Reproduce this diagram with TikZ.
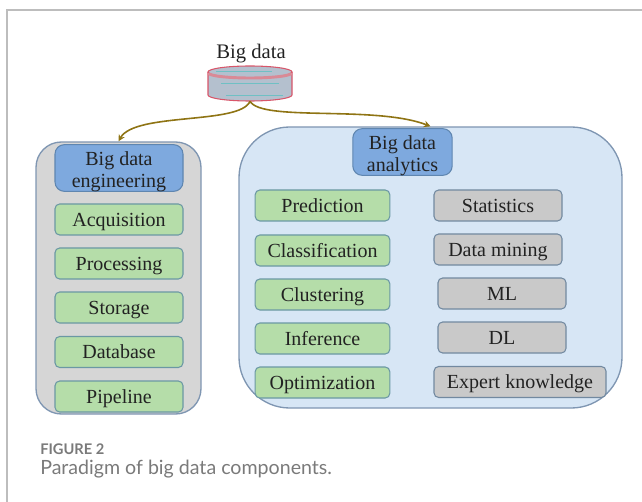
\documentclass[tikz,border=0pt]{standalone}
\usepackage{fontspec}
\setmainfont{Liberation Serif}
\setsansfont{Lato}
\usetikzlibrary{arrows.meta}

\definecolor{framegray}{HTML}{BDBDBD}
\definecolor{captiongray}{HTML}{7A7A7A}
\definecolor{panelgray}{HTML}{D6D6D6}
\definecolor{panelblue}{HTML}{D7E6F5}
\definecolor{panelline}{HTML}{7F96B2}
\definecolor{headblue}{HTML}{7EA9DE}
\definecolor{headline}{HTML}{5F86B0}
\definecolor{taskgreen}{HTML}{B5DDA9}
\definecolor{taskline}{HTML}{6B98A4}
\definecolor{toolgray}{HTML}{C9C9C9}
\definecolor{toolline}{HTML}{7289A0}
\definecolor{dbfill}{HTML}{B4C0CE}
\definecolor{dbline}{HTML}{D8566A}
\definecolor{dbband}{HTML}{D98A96}
\definecolor{dbteal}{HTML}{6FC0C4}
\definecolor{arrowgold}{HTML}{8F7414}
\definecolor{inkgray}{HTML}{222222}

\begin{document}
\begin{tikzpicture}[x=0.75pt, y=-0.75pt]
% Box style
\tikzset{
    panel/.style={draw=panelline, line width=1pt, minimum width=#1},
    head/.style={draw=headline, fill=headblue, line width=0.8pt, rounded corners=7pt,
        align=center, inner sep=0pt, text height=32pt, text depth=3pt,
        text=inkgray, font=\fontsize{15}{16.5}\selectfont},
    task/.style={draw=taskline, fill=taskgreen, line width=0.8pt, rounded corners=3.5pt,
        minimum height=23.25pt, inner sep=0pt, text height=12.3pt, text depth=2.5pt,
        text=inkgray, font=\fontsize{15}{16.5}\selectfont},
    tool/.style={draw=toolline, fill=toolgray, line width=0.8pt, rounded corners=3.5pt,
        minimum height=23.25pt, inner sep=0pt, text height=12.3pt, text depth=2.5pt,
        text=inkgray, font=\fontsize{15}{16.5}\selectfont},
    link/.style={draw=arrowgold, line width=1.2pt, -{Stealth[length=5pt, width=5pt]}}
}
\useasboundingbox (0, 0) rectangle (642, 502);

% Frame
\draw[framegray, line width=0.8pt] (642, 10) -- (7, 10) -- (7, 502);

% Panels
\node[panel=123.75pt, fill=panelgray, minimum height=204pt, rounded corners=19pt, inner sep=0pt]
    (ENG) at (118.5, 278) {};
\node[panel=287.25pt, fill=panelblue, minimum height=210.75pt, rounded corners=38pt, inner sep=0pt]
    (ANA) at (430.5, 267.5) {};

% Database
\node[text=inkgray, font=\fontsize{15.5}{18}\selectfont] (BIG) at (251, 54) {Big data};
\node[minimum width=63pt, minimum height=26.25pt, inner sep=0pt] (DB) at (250, 83.5) {};
\draw[dbline, fill=dbfill, line width=0.8pt] (208, 72) -- (208, 95) arc (180:0:42 and 6) -- (292, 72);
\draw[dbline, fill=dbfill, line width=0.8pt] (250, 72) ellipse (42 and 6);
\draw[dbband, line width=2.2pt] (208.5, 73) arc (180:0:41.5 and 5);
\draw[dbteal, line width=0.6pt] (216, 71) -- (272, 71);
\draw[dbteal, line width=0.6pt] (221, 83) -- (279, 83);
\draw[dbteal, line width=0.6pt] (226, 95) -- (283, 95);

% Engineering
\node[head, minimum width=96pt, minimum height=34.5pt] (ENGH) at (119, 168) {Big data\\engineering};
\node[task, minimum width=96pt] (ACQ) at (119, 219.5) {Acquisition};
\node[task, minimum width=96pt] (PRO) at (119, 263.5) {Processing};
\node[task, minimum width=96pt] (STO) at (119, 307.5) {Storage};
\node[task, minimum width=96pt] (DAT) at (119, 352) {Database};
\node[task, minimum width=96pt] (PIP) at (119, 396.5) {Pipeline};

% Analytics
\node[head, minimum width=74.5pt, minimum height=34.5pt] (ANAH) at (402.5, 152) {Big data\\analytics};
\node[task, minimum width=101pt] (PRE) at (322.5, 205.5) {Prediction};
\node[task, minimum width=101pt] (CLA) at (322.5, 250.5) {Classification};
\node[task, minimum width=101pt] (CLU) at (322.5, 294.5) {Clustering};
\node[task, minimum width=101pt] (INF) at (322.5, 338.5) {Inference};
\node[task, minimum width=101pt] (OPT) at (322.5, 382.5) {Optimization};
\node[tool, minimum width=96pt] (STA) at (498, 205.5) {Statistics};
\node[tool, minimum width=96pt] (MIN) at (498, 249.5) {Data mining};
\node[tool, minimum width=96pt] (ML) at (502, 293.5) {ML};
\node[tool, minimum width=96pt] (DL) at (502, 337.5) {DL};
\node[tool, minimum width=129pt] (EXP) at (520, 382) {Expert knowledge};

% Connections
\draw[link] (DB.south) .. controls (240, 125) and (135, 112) .. (ENG.north);
\draw[link] (DB.south) .. controls (262, 122) and (375, 105) .. (ANA.north);

% Caption
\node[anchor=west, inner sep=0pt, text=captiongray, font=\sffamily\bfseries\fontsize{11}{14}\selectfont]
    (FIG) at (40, 449) {FIGURE 2};
\node[anchor=west, inner sep=0pt, text=captiongray, font=\sffamily\fontsize{14.7}{16}\selectfont]
    (CAP) at (40, 469) {Paradigm of big data components.};
\end{tikzpicture}
\end{document}
